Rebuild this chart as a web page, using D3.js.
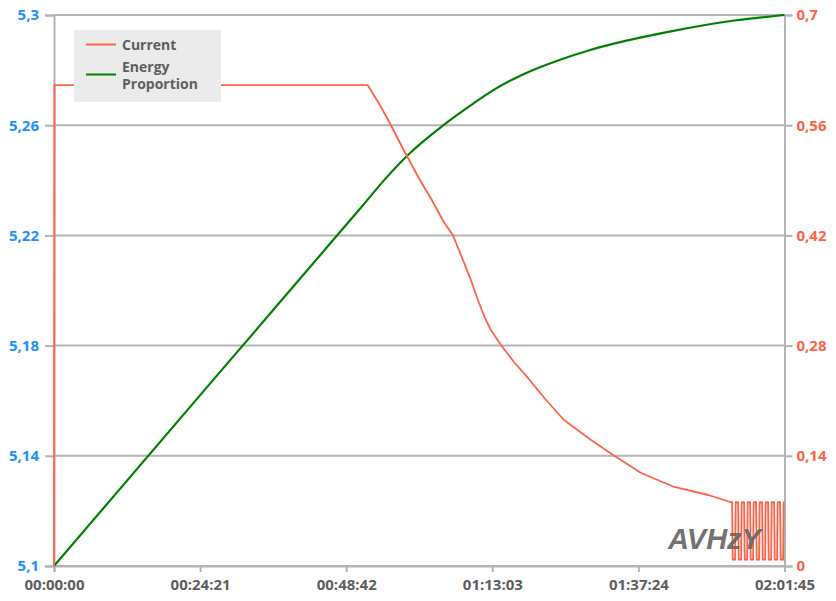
<!DOCTYPE html>
<html><head><meta charset="utf-8">
<script src="https://cdn.jsdelivr.net/npm/d3@7"></script>
<style>body{margin:0;background:#fff}svg{display:block}</style>
</head><body>
<svg id="c" width="836" height="601"></svg>
<script>
// ---- data (seconds since start) ----
const xTickValues = [0, 1461, 2922, 4383, 5844, 7305];
const xTickLabels = ["00:00:00", "00:24:21", "00:48:42", "01:13:03", "01:37:24", "02:01:45"];
const leftTicks = [5.1, 5.14, 5.18, 5.22, 5.26, 5.3];
const leftTickLabels = ["5,1", "5,14", "5,18", "5,22", "5,26", "5,3"];
const rightTicks = [0, 0.14, 0.28, 0.42, 0.56, 0.7];
const rightTickLabels = ["0", "0,14", "0,28", "0,42", "0,56", "0,7"];

const currentTime = [0, 5, 3136, 3247, 3347, 3497, 3648, 3778, 3898, 3988, 4078, 4169, 4239, 4309, 4369, 4469, 4599, 4740,
  4920, 5100, 5371, 5591, 5872, 6202, 6543, 6764,
  6781, 6787, 6811, 6817, 6841, 6847, 6871, 6877, 6901, 6907, 6931, 6937, 6961, 6967, 6991, 6997, 7021, 7027,
  7051, 7057, 7081, 7087, 7111, 7117, 7141, 7147, 7171, 7177, 7201, 7207, 7231, 7237, 7261, 7267, 7291, 7297, 7305];
const currentValue = [0, 0.611, 0.611, 0.5882, 0.5653, 0.5285, 0.4929, 0.4650, 0.4370, 0.4205, 0.3925, 0.3633, 0.3379, 0.3151, 0.2998, 0.2808, 0.2592, 0.2389,
  0.2109, 0.1855, 0.1601, 0.1410, 0.1182, 0.1004, 0.0902, 0.0813,
  0.081, 0.008, 0.008, 0.081, 0.081, 0.008, 0.008, 0.081, 0.081, 0.008, 0.008, 0.081, 0.081, 0.008, 0.008, 0.081,
  0.081, 0.008, 0.008, 0.081, 0.081, 0.008, 0.008, 0.081, 0.081, 0.008, 0.008, 0.081, 0.081, 0.008, 0.008, 0.081,
  0.081, 0.008, 0.008, 0.081, 0.081];

const energyTime = [0, 1650, 3100, 3317, 3537, 3898, 4199, 4369, 4700, 5040, 5371, 5702, 6143, 6804, 7305];
const energyValue = [5.1, 5.17, 5.2314, 5.2407, 5.2491, 5.2601, 5.2680, 5.2722, 5.2786, 5.2835, 5.2874, 5.2905, 5.2939, 5.2980, 5.3];

const seriesNames = ["Current", "Energy Proportion"];
const seriesColors = ["#ff6347", "#008000"];

// ---- drawing ----
const svg = d3.select("#c");
const L = 54, R = 784.5, T = 15, B = 566;
const x = d3.scaleLinear().domain([0, 7305]).range([L, R]);
const yL = d3.scaleLinear().domain([5.1, 5.3]).range([B, T]);
const yR = d3.scaleLinear().domain([0, 0.7]).range([B, T]);
const grid = "#b4b4b4";
const font = "'Open Sans', 'Noto Sans', sans-serif";

// gridlines
svg.append("g").selectAll("line").data(leftTicks).join("line")
  .attr("x1", L).attr("x2", R).attr("y1", d => yL(d)).attr("y2", d => yL(d))
  .attr("stroke", grid).attr("stroke-width", 2);

// axes
const axL = svg.append("g").attr("transform", `translate(${L},0)`)
  .call(d3.axisLeft(yL).tickValues(leftTicks).tickFormat((d, i) => leftTickLabels[i]).tickSize(9).tickPadding(6));
const axR = svg.append("g").attr("transform", `translate(${R},0)`)
  .call(d3.axisRight(yR).tickValues(rightTicks).tickFormat((d, i) => rightTickLabels[i]).tickSize(8).tickPadding(4));
const axB = svg.append("g").attr("transform", `translate(0,${B})`)
  .call(d3.axisBottom(x).tickValues(xTickValues).tickFormat((d, i) => xTickLabels[i]).tickSize(6).tickPadding(7));

[axL, axR, axB].forEach(a => {
  a.select(".domain").attr("stroke", grid).attr("stroke-width", 2);
  a.selectAll(".tick line").attr("stroke", grid).attr("stroke-width", 2);
  a.selectAll("text").attr("font-family", font).attr("font-size", 15).attr("font-weight", 700);
});
axL.selectAll("text").attr("fill", "#1e8fff");
axR.selectAll("text").attr("fill", "#ff6347");
axB.selectAll("text").attr("fill", "#5e5e5e");

// lines
const curData = currentTime.map((t, i) => [t, currentValue[i]]);
const enData = energyTime.map((t, i) => [t, energyValue[i]]);

svg.append("path").datum(enData)
  .attr("d", d3.line().x(d => x(d[0])).y(d => yL(d[1])).curve(d3.curveMonotoneX))
  .attr("fill", "none").attr("stroke", seriesColors[1]).attr("stroke-width", 2.2);

svg.append("path").datum(curData)
  .attr("d", d3.line().x(d => x(d[0])).y(d => yR(d[1])))
  .attr("fill", "none").attr("stroke", seriesColors[0]).attr("stroke-width", 1.8).attr("stroke-linejoin", "round");

// legend
const lg = svg.append("g");
lg.append("rect").attr("x", 74).attr("y", 30).attr("width", 147).attr("height", 72).attr("fill", "#ebebeb");
lg.append("line").attr("x1", 86).attr("x2", 116).attr("y1", 44.5).attr("y2", 44.5).attr("stroke", seriesColors[0]).attr("stroke-width", 2);
lg.append("line").attr("x1", 86).attr("x2", 116).attr("y1", 74.5).attr("y2", 74.5).attr("stroke", seriesColors[1]).attr("stroke-width", 2);
lg.append("text").attr("x", 122).attr("y", 49.5).text(seriesNames[0]);
const words = seriesNames[1].split(" ");
lg.append("text").attr("x", 122).attr("y", 71.5).text(words[0]);
lg.append("text").attr("x", 122).attr("y", 88.5).text(words[1]);
lg.selectAll("text").attr("font-family", font).attr("font-size", 14).attr("font-weight", 700).attr("fill", "#5e5e5e");

// watermark
svg.append("text").attr("x", 668).attr("y", 549).text("AVHzY")
  .attr("font-family", "'Liberation Sans', Arial, sans-serif").attr("font-size", 29)
  .attr("font-weight", 700).attr("font-style", "italic").attr("fill", "#6a6a6a").attr("fill-opacity", 0.95);
</script>
</body></html>
